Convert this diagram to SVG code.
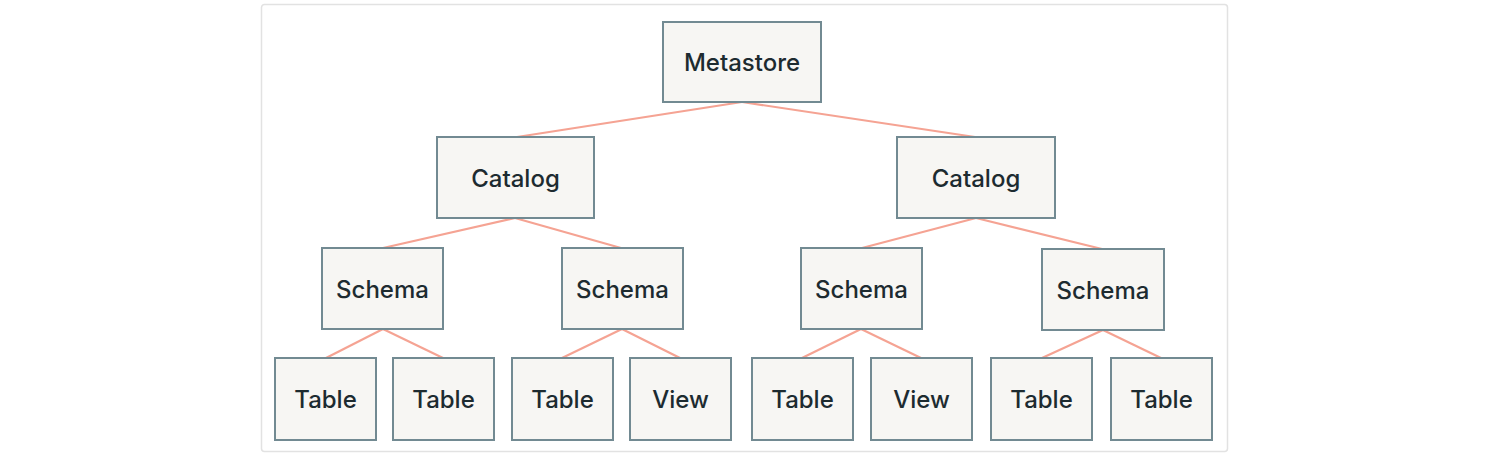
<svg xmlns="http://www.w3.org/2000/svg" width="1487" height="457" viewBox="0 0 1487 457">
<style>
.frame{fill:#ffffff;stroke:#e2e2e2;stroke-width:1.5}
.box{fill:#f7f6f3;stroke:#728a92;stroke-width:2}
.lbl{font-family:Inter,"Open Sans",sans-serif;font-size:24px;font-weight:500;fill:#1d2b30;text-anchor:middle}
.edge{stroke:#f5a393;stroke-width:2.2;fill:none}
</style>
<rect x="0" y="0" width="1487" height="457" fill="#ffffff"/>
<rect class="frame" x="261.5" y="4.5" width="966" height="447" rx="3"/>
<g id="connectors">
<line class="edge" x1="742" y1="102" x2="517" y2="137"/>
<line class="edge" x1="742" y1="102" x2="975" y2="137"/>
<line class="edge" x1="515" y1="218" x2="383" y2="248"/>
<line class="edge" x1="515" y1="218" x2="621" y2="248"/>
<line class="edge" x1="976" y1="218" x2="862" y2="248"/>
<line class="edge" x1="976" y1="218" x2="1102" y2="249"/>
<line class="edge" x1="383" y1="329" x2="326" y2="358"/>
<line class="edge" x1="383" y1="329" x2="443" y2="358"/>
<line class="edge" x1="622" y1="329" x2="562" y2="358"/>
<line class="edge" x1="622" y1="329" x2="680" y2="358"/>
<line class="edge" x1="861" y1="329" x2="802" y2="358"/>
<line class="edge" x1="861" y1="329" x2="921" y2="358"/>
<line class="edge" x1="1103" y1="330" x2="1042" y2="358"/>
<line class="edge" x1="1103" y1="330" x2="1161" y2="358"/>
</g>
<g id="metastore"><rect class="box" x="663" y="22" width="158" height="80"/><text class="lbl" x="742" y="71">Metastore</text></g>
<g id="catalog1"><rect class="box" x="437" y="137" width="157" height="81"/><text class="lbl" x="515.5" y="187">Catalog</text></g>
<g id="catalog2"><rect class="box" x="897" y="137" width="158" height="81"/><text class="lbl" x="976" y="187">Catalog</text></g>
<g id="schema1"><rect class="box" x="322" y="248" width="121" height="81"/><text class="lbl" x="382.5" y="298">Schema</text></g>
<g id="schema2"><rect class="box" x="562" y="248" width="121" height="81"/><text class="lbl" x="622.5" y="298">Schema</text></g>
<g id="schema3"><rect class="box" x="801" y="248" width="121" height="81"/><text class="lbl" x="861.5" y="298">Schema</text></g>
<g id="schema4"><rect class="box" x="1042" y="249" width="122" height="81"/><text class="lbl" x="1103" y="299">Schema</text></g>
<g id="table1"><rect class="box" x="275" y="358" width="101" height="82"/><text class="lbl" x="325.5" y="408">Table</text></g>
<g id="table2"><rect class="box" x="393" y="358" width="101" height="82"/><text class="lbl" x="443.5" y="408">Table</text></g>
<g id="table3"><rect class="box" x="512" y="358" width="101" height="82"/><text class="lbl" x="562.5" y="408">Table</text></g>
<g id="view1"><rect class="box" x="630" y="358" width="101" height="82"/><text class="lbl" x="680.5" y="408">View</text></g>
<g id="table4"><rect class="box" x="752" y="358" width="101" height="82"/><text class="lbl" x="802.5" y="408">Table</text></g>
<g id="view2"><rect class="box" x="871" y="358" width="101" height="82"/><text class="lbl" x="921.5" y="408">View</text></g>
<g id="table5"><rect class="box" x="991" y="358" width="101" height="82"/><text class="lbl" x="1041.5" y="408">Table</text></g>
<g id="table6"><rect class="box" x="1111" y="358" width="101" height="82"/><text class="lbl" x="1161.5" y="408">Table</text></g>
</svg>
